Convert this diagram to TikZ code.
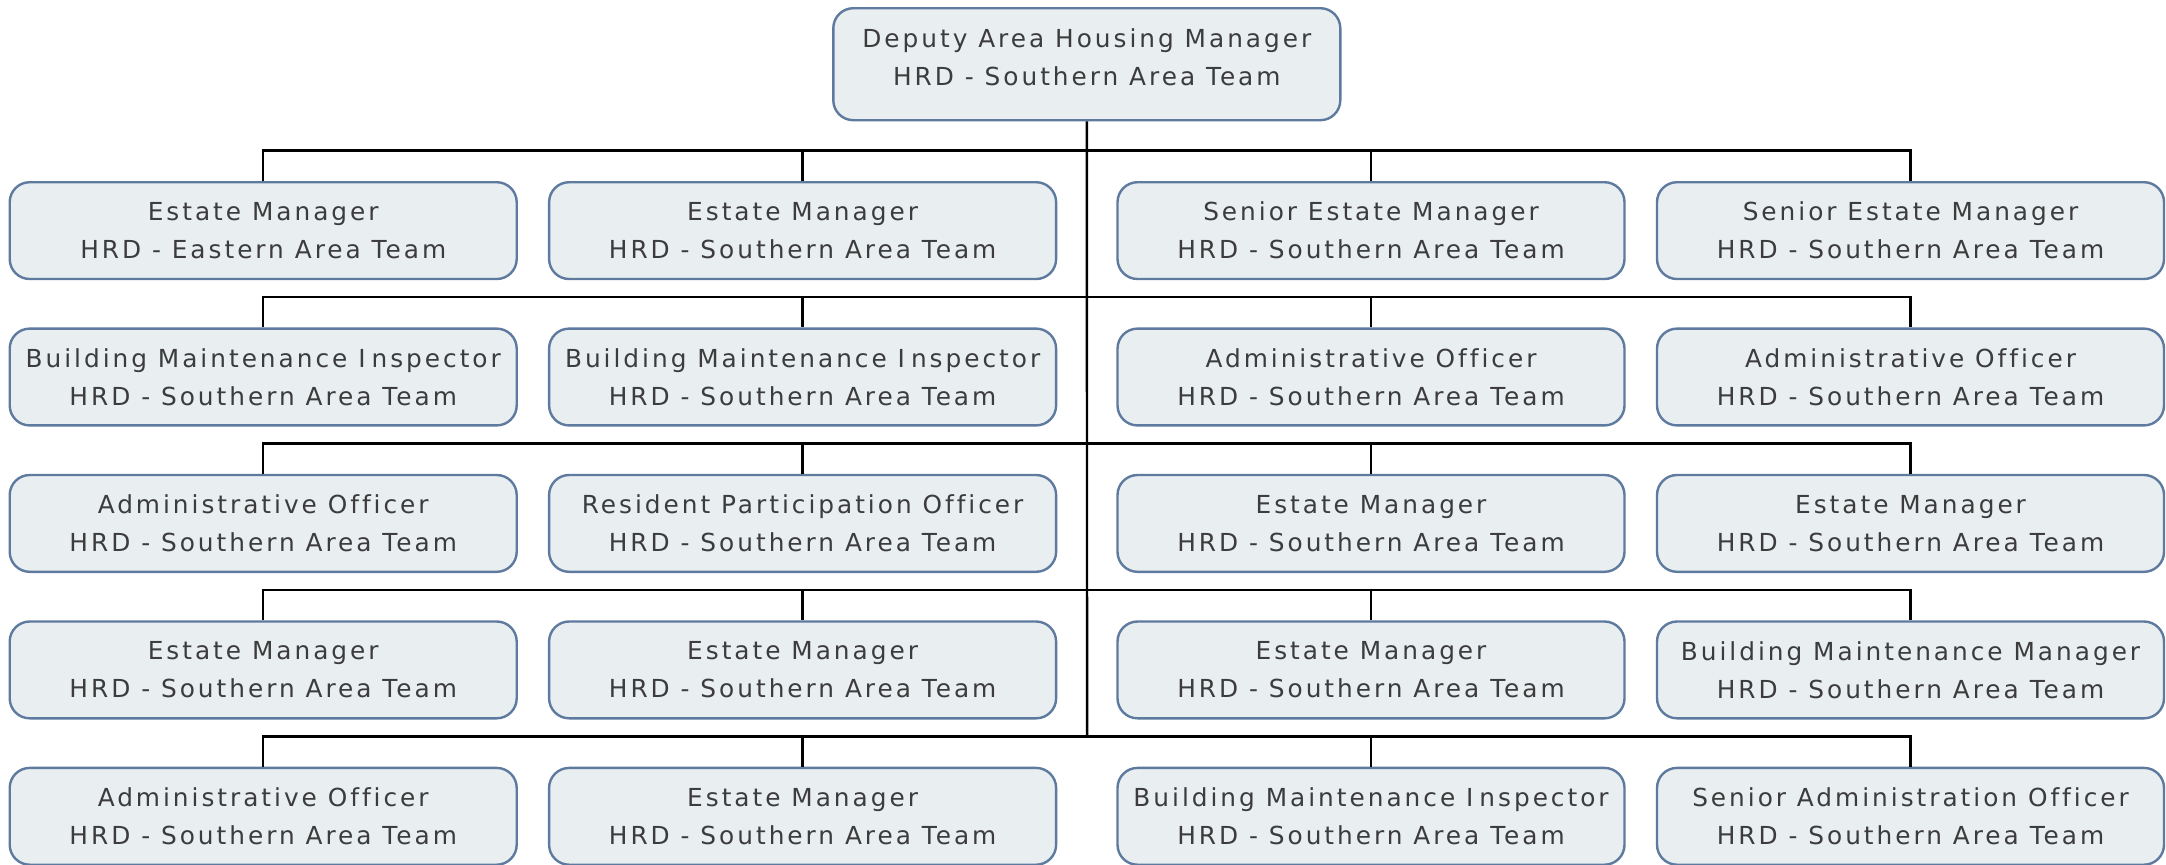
\documentclass[tikz,border=0pt]{standalone}
\usepackage{fontspec}
\setmainfont{DejaVu Sans}[LetterSpace=12, Ligatures={NoCommon}]
\definecolor{boxfill}{HTML}{E9EEF1}
\definecolor{boxline}{HTML}{5E7A9F}
\definecolor{txt}{HTML}{3C3C3C}
\tikzset{
  orgbox/.style={draw=boxline, fill=boxfill, line width=1.2pt, rounded corners=10pt,
    minimum width=253.5pt, minimum height=48.4pt, inner sep=0pt, anchor=north,
    align=center, text=txt, font=\fontsize{12.4pt}{19pt}\selectfont},
  topbox/.style={draw=boxline, fill=boxfill, line width=1.2pt, rounded corners=10pt,
    minimum width=253.5pt, minimum height=56pt, inner sep=0pt},
  toptext/.style={align=center, text=txt, inner sep=0pt, font=\fontsize{12.4pt}{19pt}\selectfont},
  link/.style={draw=black, line width=1.2pt}
}
\newcommand{\hrd}[1]{HRD - #1 Area Team}
\begin{document}
\begin{tikzpicture}[x=0.5pt,y=-0.5pt]
\useasboundingbox (0,0) rectangle (2166,864);
% top
\node[topbox] (top) at (1086.8,64.2) {};
\node[toptext] (toptxt) at (1086.8,57) {Deputy Area Housing Manager\\\hrd{Southern}};
% row 1
\node[orgbox] (r1c1) at (263.2,181) {Estate Manager\\\hrd{Eastern}};
\node[orgbox] (r1c2) at (802.6,181) {Estate Manager\\\hrd{Southern}};
\node[orgbox] (r1c3) at (1371,181) {Senior Estate Manager\\\hrd{Southern}};
\node[orgbox] (r1c4) at (1910.5,181) {Senior Estate Manager\\\hrd{Southern}};
% row 2
\node[orgbox] (r2c1) at (263.2,327.4) {Building Maintenance I\kern3pt nspector\\\hrd{Southern}};
\node[orgbox] (r2c2) at (802.6,327.4) {Building Maintenance I\kern3pt nspector\\\hrd{Southern}};
\node[orgbox] (r2c3) at (1371,327.4) {Administrative Officer\\\hrd{Southern}};
\node[orgbox] (r2c4) at (1910.5,327.4) {Administrative Officer\\\hrd{Southern}};
% row 3
\node[orgbox] (r3c1) at (263.2,473.8) {Administrative Officer\\\hrd{Southern}};
\node[orgbox] (r3c2) at (802.6,473.8) {Resident Participation Officer\\\hrd{Southern}};
\node[orgbox] (r3c3) at (1371,473.8) {Estate Manager\\\hrd{Southern}};
\node[orgbox] (r3c4) at (1910.5,473.8) {Estate Manager\\\hrd{Southern}};
% row 4
\node[orgbox] (r4c1) at (263.2,620.3) {Estate Manager\\\hrd{Southern}};
\node[orgbox] (r4c2) at (802.6,620.3) {Estate Manager\\\hrd{Southern}};
\node[orgbox] (r4c3) at (1371,620.3) {Estate Manager\\\hrd{Southern}};
\node[orgbox] (r4c4) at (1910.5,620.3) {Building Maintenance Manager\\\hrd{Southern}};
% row 5
\node[orgbox] (r5c1) at (263.2,766.7) {Administrative Officer\\\hrd{Southern}};
\node[orgbox] (r5c2) at (802.6,766.7) {Estate Manager\\\hrd{Southern}};
\node[orgbox] (r5c3) at (1371,766.7) {Building Maintenance I\kern3pt nspector\\\hrd{Southern}};
\node[orgbox] (r5c4) at (1910.5,766.7) {Senior Administration Officer\\\hrd{Southern}};
% bus coordinates
\coordinate (b1) at (1087.1,150.6);
\coordinate (b2) at (1087.1,297.0);
\coordinate (b3) at (1087.1,443.4);
\coordinate (b4) at (1087.1,589.9);
\coordinate (b5) at (1087.1,736.3);
% trunk
\draw[link] (top.south) -- (b5);
% buses
\foreach \r in {1,...,5}{
  \draw[link] (r\r c1.north) |- (b\r) -| (r\r c4.north);
  \draw[link] (b\r -| r\r c2.north) -- (r\r c2.north);
  \draw[link] (b\r -| r\r c3.north) -- (r\r c3.north);
}
\end{tikzpicture}
\end{document}
